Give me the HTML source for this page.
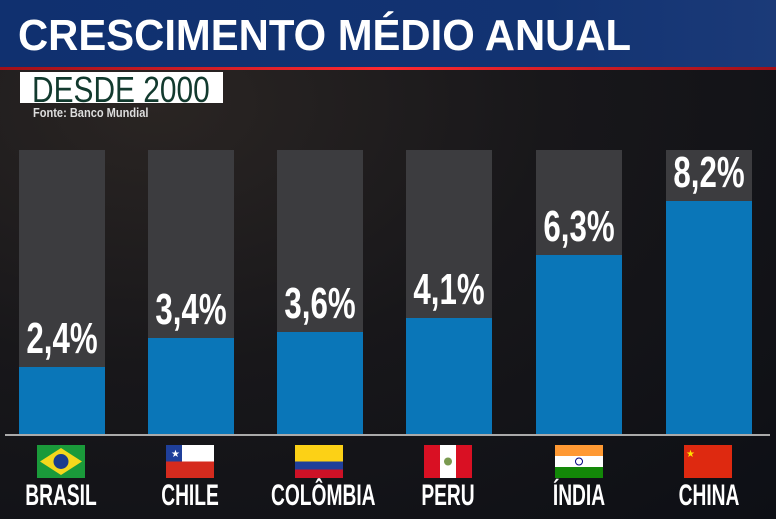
<!DOCTYPE html><html><head><style>
body{margin:0;width:776px;height:519px;overflow:hidden;background:#121318;font-family:"Liberation Sans",sans-serif;position:relative}
.bg{position:absolute;inset:0;background:radial-gradient(ellipse at 20% 20%,#2a2523 0%,#18171a 45%,#0d0f15 100%)}
.hdr{position:absolute;left:0;top:0;width:776px;height:68px;background:linear-gradient(90deg,#10306f,#123372 70%,#1b3a78)}
.red{position:absolute;left:0;top:67px;width:776px;height:3px;background:linear-gradient(90deg,#a01018,#ff2a30 50%,#a01018)}
.title{position:absolute;left:18px;top:11px;font:bold 44px "Liberation Sans",sans-serif;color:#fff;transform:scaleX(0.95);transform-origin:left;white-space:nowrap}
.desde{position:absolute;left:20px;top:72px;width:203px;height:31px;background:#fff;overflow:hidden}
.desde span{position:absolute;left:12px;top:-3px;color:#123a2e;font:36px "Liberation Sans",sans-serif;transform:scaleX(0.83);transform-origin:left;white-space:nowrap}
.fonte{position:absolute;left:33px;top:105px;font:bold 13px "Liberation Sans",sans-serif;color:#ddd;transform:scaleX(0.85);transform-origin:left;white-space:nowrap}
.bar{position:absolute;width:86px;top:150px;height:284px;background:#3c3c3f}
.fill{position:absolute;left:0;bottom:0;width:100%;background:#0a76b8}
.val{position:absolute;width:130px;margin-left:-22px;text-align:center;color:#fff;font:bold 44px "Liberation Sans",sans-serif;transform:scaleX(0.71)}
.base{position:absolute;left:5px;top:434px;width:765px;height:2px;background:#aaa}
.lab{position:absolute;top:479px;width:150px;text-align:center;color:#fff;font:bold 30px "Liberation Sans",sans-serif;transform:scaleX(0.64);white-space:nowrap}
.flag{position:absolute;top:445px;width:48px;height:33px}
</style></head><body>
<div class="bg"></div>
<div class="hdr"></div><div class="red"></div>
<div class="title">CRESCIMENTO MÉDIO ANUAL</div>
<div class="desde"><span>DESDE 2000</span></div>
<div class="fonte">Fonte: Banco Mundial</div>

<div class="bar" style="left:19px"><div class="fill" style="height:67px"></div></div>
<div class="bar" style="left:148px"><div class="fill" style="height:96px"></div></div>
<div class="bar" style="left:277px"><div class="fill" style="height:102px"></div></div>
<div class="bar" style="left:406px"><div class="fill" style="height:116px"></div></div>
<div class="bar" style="left:536px"><div class="fill" style="height:179px"></div></div>
<div class="bar" style="left:666px"><div class="fill" style="height:233px"></div></div>

<div class="val" style="left:19px;top:314px">2,4%</div>
<div class="val" style="left:148px;top:285px">3,4%</div>
<div class="val" style="left:277px;top:279px">3,6%</div>
<div class="val" style="left:406px;top:265px">4,1%</div>
<div class="val" style="left:536px;top:202px">6,3%</div>
<div class="val" style="left:666px;top:148px">8,2%</div>

<div class="base"></div>

<svg class="flag" style="left:37px" viewBox="0 0 48 33"><rect width="48" height="33" fill="#1a9a3a"/><polygon points="24,3 45,16.5 24,30 3,16.5" fill="#f4d81c"/><circle cx="24" cy="16.5" r="7.5" fill="#1b3d8c"/></svg>
<svg class="flag" style="left:166px" viewBox="0 0 48 33"><rect width="48" height="33" fill="#d52b1e"/><rect width="48" height="16.5" fill="#fff"/><rect width="16" height="16.5" fill="#1f3f9a"/><text x="5" y="12" fill="#fff" font-size="10">★</text></svg>
<svg class="flag" style="left:295px" viewBox="0 0 48 33"><rect width="48" height="33" fill="#ce1126"/><rect width="48" height="24.5" fill="#1f3f9a"/><rect width="48" height="16.5" fill="#fcd116"/></svg>
<svg class="flag" style="left:424px" viewBox="0 0 48 33"><rect width="48" height="33" fill="#d91023"/><rect x="16" width="16" height="33" fill="#fff"/><circle cx="24" cy="16.5" r="4" fill="#7a9a50"/></svg>
<svg class="flag" style="left:555px" viewBox="0 0 48 33"><rect width="48" height="33" fill="#138808"/><rect width="48" height="22" fill="#fff"/><rect width="48" height="11" fill="#ff9933"/><circle cx="24" cy="16.5" r="3.5" fill="none" stroke="#000080" stroke-width="1"/></svg>
<svg class="flag" style="left:684px" viewBox="0 0 48 33"><rect width="48" height="33" fill="#de2910"/><text x="2" y="12" fill="#ffde00" font-size="10">★</text></svg>

<div class="lab" style="left:-14px">BRASIL</div>
<div class="lab" style="left:115px">CHILE</div>
<div class="lab" style="left:244px">COLÔMBIA</div>
<div class="lab" style="left:373px">PERU</div>
<div class="lab" style="left:504px">ÍNDIA</div>
<div class="lab" style="left:634px">CHINA</div>
</body></html>
